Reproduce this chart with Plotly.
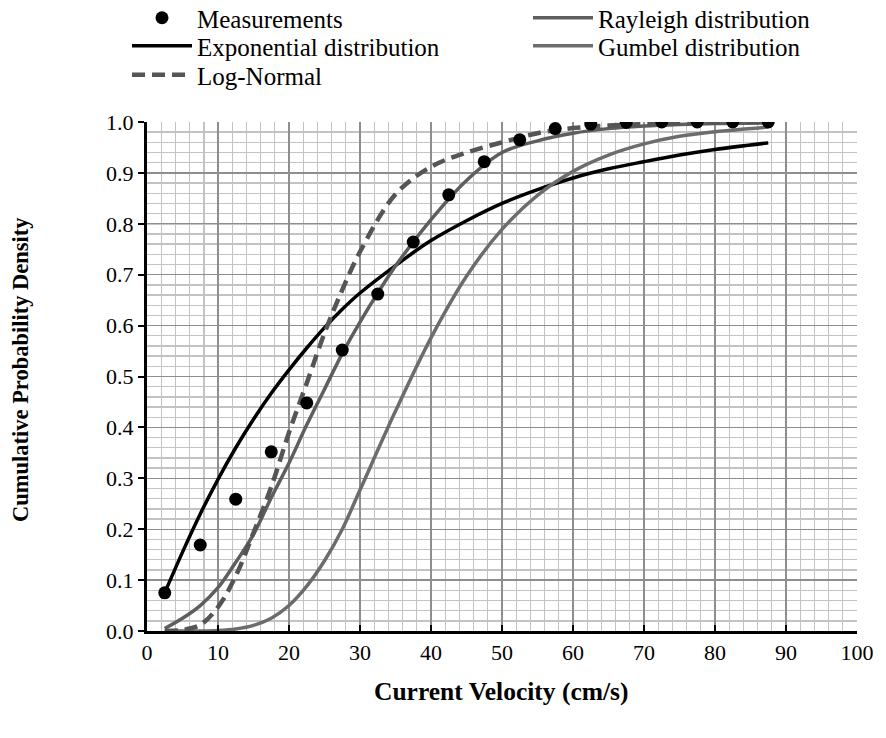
import plotly.graph_objects as go

# Measurements
meas_x = [2.5, 7.5, 12.5, 17.5, 22.5, 27.5, 32.5, 37.5, 42.5, 47.5,
          52.5, 57.5, 62.5, 67.5, 72.5, 77.5, 82.5, 87.5]
meas_y = [0.075, 0.169, 0.259, 0.352, 0.448, 0.552, 0.662, 0.764, 0.857, 0.922,
          0.965, 0.987, 0.996, 0.999, 1.0, 1.0, 1.0, 1.0]

# Fitted curves
curve_x = [2.5, 5, 7.5, 10, 12.5, 15, 17.5, 20, 22.5, 25, 27.5, 30,
           35, 40, 45, 50, 55, 60, 65, 70, 75, 80, 87.5]
exp_y = [0.075, 0.155, 0.23, 0.298, 0.36, 0.416, 0.467, 0.513, 0.556, 0.596, 0.632, 0.664,
         0.718, 0.767, 0.806, 0.84, 0.867, 0.89, 0.908, 0.922, 0.935, 0.946, 0.959]
ray_y = [0.005, 0.025, 0.05, 0.085, 0.135, 0.19, 0.262, 0.33, 0.405, 0.475, 0.545, 0.607,
         0.717, 0.808, 0.885, 0.94, 0.963, 0.978, 0.987, 0.992, 0.995, 0.997, 0.998]
gum_y = [0.0, 0.0, 0.0, 0.001, 0.004, 0.011, 0.025, 0.05, 0.088, 0.138, 0.2, 0.277,
         0.432, 0.576, 0.697, 0.789, 0.856, 0.903, 0.935, 0.957, 0.972, 0.981, 0.99]
ln_y = [0.0, 0.002, 0.012, 0.047, 0.108, 0.193, 0.283, 0.39, 0.487, 0.585, 0.67, 0.745,
        0.858, 0.912, 0.94, 0.96, 0.978, 0.988, 0.993, 0.996, 0.998, 0.999, 1.0]

x_ticks = [0, 10, 20, 30, 40, 50, 60, 70, 80, 90, 100]
y_ticks = [0.0, 0.1, 0.2, 0.3, 0.4, 0.5, 0.6, 0.7, 0.8, 0.9, 1.0]

FONT = "Liberation Serif"

fig = go.Figure()
fig.add_trace(go.Scatter(x=curve_x, y=exp_y, mode="lines", name="Exponential distribution",
                         line=dict(color="#000000", width=3.5, shape="spline"), legend="legend2"))
fig.add_trace(go.Scatter(x=curve_x, y=ray_y, mode="lines", name="Rayleigh distribution",
                         line=dict(color="#5e5e5e", width=3.5, shape="spline"), legend="legend4"))
fig.add_trace(go.Scatter(x=curve_x, y=gum_y, mode="lines", name="Gumbel distribution",
                         line=dict(color="#6c6c6c", width=3.5, shape="spline"), legend="legend5"))
fig.add_trace(go.Scatter(x=curve_x, y=ln_y, mode="lines", name="Log-Normal",
                         line=dict(color="#555555", width=4.5, shape="spline", dash="13px,7px"),
                         legend="legend3"))
fig.add_trace(go.Scatter(x=meas_x, y=meas_y, mode="markers", name="Measurements",
                         marker=dict(color="#000000", size=13), legend="legend"))


def leg(xp, yp):
    return dict(x=xp, y=yp, xanchor="left", yanchor="middle", orientation="v",
                font=dict(family=FONT, size=25, color="black"),
                bgcolor="rgba(0,0,0,0)", itemwidth=60)


col1 = (127 - 147) / 710
col2 = (528 - 147) / 710
row = [1 + (122 - 18) / 509, 1 + (122 - 46) / 509, 1 + (122 - 75) / 509]

fig.update_layout(
    width=886, height=738,
    margin=dict(l=147, r=29, t=122, b=107, autoexpand=False),
    paper_bgcolor="white", plot_bgcolor="white",
    font=dict(family=FONT, size=22, color="black"),
    showlegend=True,
    legend=leg(col1, row[0]),
    legend2=leg(col1, row[1]),
    legend3=leg(col1, row[2]),
    legend4=leg(col2, row[0]),
    legend5=leg(col2, row[1]),
    annotations=[
        dict(text="<b>Current Velocity (cm/s)</b>", xref="paper", yref="paper",
             x=0.4986, y=-0.1198, yanchor="middle", xanchor="center", showarrow=False,
             font=dict(family=FONT, size=25.5, color="black")),
        dict(text="<b>Cumulative Probability Density</b>", xref="paper", yref="paper",
             x=-0.1789, y=0.5147, xanchor="center", yanchor="middle", textangle=-90,
             showarrow=False, font=dict(family=FONT, size=22.5, color="black")),
    ],
)

fig.update_xaxes(range=[0, 100], tickvals=x_ticks, ticktext=[str(v) for v in x_ticks],
                 showline=True, linecolor="black", linewidth=3,
                 ticks="inside", ticklen=6, tickwidth=2, tickcolor="black",
                 showgrid=True, gridcolor="#8e8e8e", gridwidth=1.3, zeroline=False,
                 minor=dict(dtick=2, showgrid=True, gridcolor="#c3c3c3", gridwidth=1.4),
                 tickfont=dict(family=FONT, size=22, color="black"), fixedrange=True)
fig.update_yaxes(range=[0, 1.0], tickvals=y_ticks, ticktext=[f"{v:.1f}" for v in y_ticks],
                 showline=True, linecolor="black", linewidth=3,
                 ticks="outside", ticklen=6, tickwidth=2, tickcolor="black",
                 showgrid=True, gridcolor="#8e8e8e", gridwidth=1.3, zeroline=False,
                 minor=dict(dtick=0.02, showgrid=True, gridcolor="#c3c3c3", gridwidth=1.4),
                 tickfont=dict(family=FONT, size=22, color="black"), fixedrange=True)

fig.write_html("out.html", config={"displayModeBar": False, "staticPlot": True},
               post_script="document.body.style.margin='0';document.body.style.padding='0';")
